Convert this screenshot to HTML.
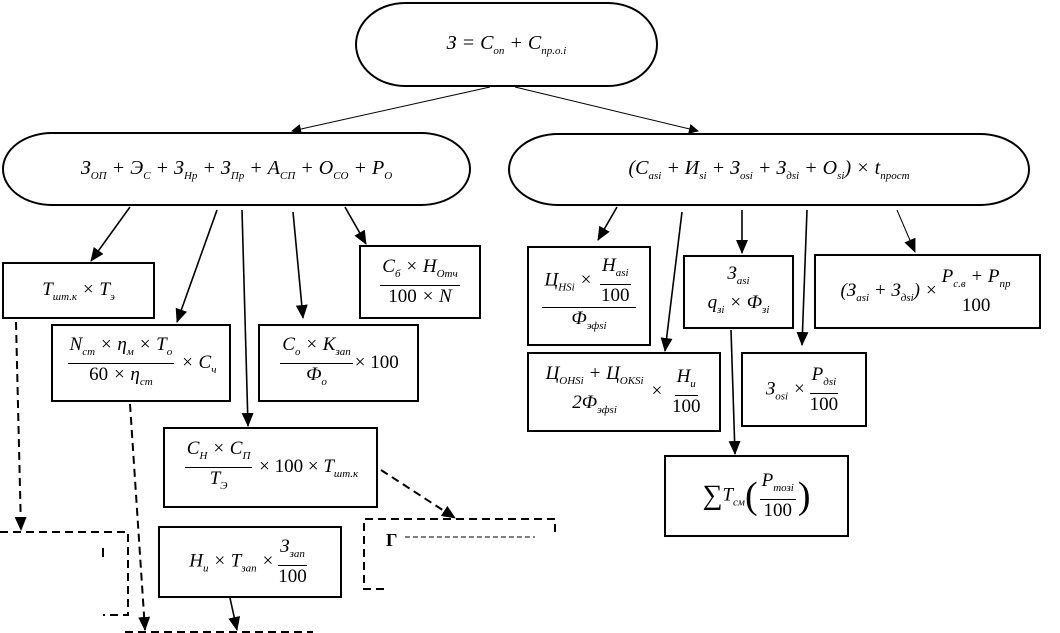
<!DOCTYPE html>
<html><head><meta charset="utf-8"><style>
html,body{margin:0;padding:0;background:#fff;}
body{width:1060px;height:633px;position:relative;overflow:hidden;font-family:"Liberation Serif",serif;font-style:italic;color:#000;}
.b{position:absolute;border:2px solid #000;box-sizing:border-box;display:flex;align-items:center;justify-content:center;background:#fff;font-size:19px;white-space:nowrap;}
.st{position:absolute;border:2px solid #000;box-sizing:border-box;border-radius:50px/50%;display:flex;align-items:center;justify-content:center;font-size:20px;white-space:nowrap;background:#fff;}
sub{font-size:11px;vertical-align:-5px;}
.f{display:inline-flex;flex-direction:column;align-items:center;vertical-align:middle;margin:0 2px;}
.f>span{display:block;line-height:22px;padding:0 2px;}
.f>span:first-child{border-bottom:1px solid #000;}
.n{font-style:normal;}
svg{position:absolute;left:0;top:0;}
</style></head><body>
<svg width="1060" height="633">
<defs><marker id="a" markerWidth="10" markerHeight="10" refX="9" refY="5" orient="auto" markerUnits="userSpaceOnUse"><path d="M0,0 L10,5 L0,10z" fill="#000"/></marker>
<marker id="a2" markerWidth="14" markerHeight="12" refX="13" refY="6" orient="auto" markerUnits="userSpaceOnUse"><path d="M0,0 L14,6 L0,12z" fill="#000"/></marker></defs>
<g stroke="#000" fill="none">
<line x1="490" y1="87" x2="292" y2="131" stroke-width="1" marker-end="url(#a)"/>
<line x1="515" y1="87" x2="698" y2="131" stroke-width="1" marker-end="url(#a)"/>
<g stroke-width="1.6">
<line x1="130" y1="207" x2="91" y2="261" marker-end="url(#a2)"/>
<line x1="217" y1="210" x2="177" y2="322" marker-end="url(#a2)"/>
<line x1="242" y1="210" x2="248" y2="426" marker-end="url(#a2)"/>
<line x1="293" y1="212" x2="303" y2="318" marker-end="url(#a2)"/>
<line x1="345" y1="207" x2="366" y2="244" marker-end="url(#a2)"/>
<line x1="230" y1="598" x2="237" y2="630" marker-end="url(#a2)"/>
<line x1="617" y1="207" x2="598" y2="240" marker-end="url(#a2)"/>
<line x1="682" y1="212" x2="665" y2="351" marker-end="url(#a2)"/>
<line x1="742" y1="210" x2="742" y2="253" marker-end="url(#a2)"/>
<line x1="807" y1="210" x2="802" y2="345" marker-end="url(#a2)"/>
<line x1="731" y1="330" x2="735" y2="454" marker-end="url(#a2)"/>
</g>
<line x1="897" y1="210" x2="915" y2="252" stroke-width="1" marker-end="url(#a2)"/>
<g stroke-width="2" stroke-dasharray="8,5">
<line x1="16" y1="322" x2="21" y2="530" marker-end="url(#a2)"/>
<polyline points="0,532 128,532 128,615 103,615"/>
<line x1="130" y1="404" x2="145" y2="630" marker-end="url(#a2)"/>
<line x1="125" y1="632" x2="313" y2="632"/>
<line x1="381" y1="470" x2="455" y2="518" marker-end="url(#a2)"/>
<polyline points="555,519 364,519 364,589 388,589"/>
</g>
<line x1="405" y1="537" x2="535" y2="537" stroke-width="1" stroke-dasharray="5,3"/>
<line x1="555" y1="524" x2="555" y2="532" stroke-width="2"/>
<line x1="103" y1="548" x2="103" y2="557" stroke-width="2"/>
</g>
<text x="386" y="546" font-family="Liberation Serif" font-size="18" font-weight="bold" font-style="normal">Г</text>
</svg>

<div class="st" style="left:355px;top:2px;width:303px;height:85px;"><span>З = C<sub>оп</sub> + C<sub>пр.о.i</sub></span></div>
<div class="st" style="left:2px;top:132px;width:469px;height:74px;"><span>З<sub>ОП</sub> + Э<sub>С</sub> + З<sub>Нр</sub> + З<sub>Пр</sub> + А<sub>СП</sub> + О<sub>СО</sub> + Р<sub>О</sub></span></div>
<div class="st" style="left:508px;top:133px;width:522px;height:73px;"><span>(C<sub>аsi</sub> + И<sub>si</sub> + З<sub>оsi</sub> + З<sub>дsi</sub> + О<sub>si</sub>) × t<sub>прост</sub></span></div>

<div class="b" style="left:2px;top:262px;width:153px;height:57px;"><span>T<sub>шт.к</sub> × T<sub>э</sub></span></div>
<div class="b" style="left:51px;top:324px;width:180px;height:78px;"><span><span class="f"><span>N<sub>ст</sub> × η<sub>м</sub> × T<sub>о</sub></span><span><span class="n">60</span> × η<sub>ст</sub></span></span> × C<sub>ч</sub></span></div>
<div class="b" style="left:258px;top:324px;width:161px;height:78px;"><span><span class="f"><span>C<sub>о</sub> × K<sub>зап</sub></span><span>Ф<sub>о</sub></span></span><span class="n">× 100</span></span></div>
<div class="b" style="left:359px;top:245px;width:122px;height:74px;"><span><span class="f"><span>C<sub>б</sub> × H<sub>Отч</sub></span><span><span class="n">100</span> × N</span></span></span></div>
<div class="b" style="left:163px;top:427px;width:215px;height:81px;"><span><span class="f"><span>C<sub>Н</sub> × C<sub>П</sub></span><span>T<sub>Э</sub></span></span> <span class="n">× 100 ×</span> T<sub>шт.к</sub></span></div>
<div class="b" style="left:158px;top:526px;width:184px;height:72px;"><span>Н<sub>и</sub> × T<sub>зап</sub> ×<span class="f"><span>З<sub>зап</sub></span><span class="n">100</span></span></span></div>

<div class="b" style="left:527px;top:246px;width:124px;height:100px;"><span><span class="f"><span>Ц<sub>НSi</sub> × <span class="f"><span>H<sub>аsi</sub></span><span class="n">100</span></span></span><span>Ф<sub>эфsi</sub></span></span></span></div>
<div class="b" style="left:527px;top:352px;width:194px;height:80px;"><span><span class="f" style="margin:0"><span style="border:none">Ц<sub>ОНSi</sub> + Ц<sub>ОКSi</sub></span><span>2Ф<sub>эфsi</sub></span></span> × <span class="f"><span>H<sub>и</sub></span><span class="n">100</span></span></span></div>
<div class="b" style="left:683px;top:255px;width:111px;height:74px;"><span><span class="f"><span style="border:none">З<sub>аsi</sub></span><span>q<sub>зi</sub> × Ф<sub>зi</sub></span></span></span></div>
<div class="b" style="left:741px;top:352px;width:126px;height:75px;"><span>З<sub>оsi</sub> ×<span class="f"><span>P<sub>дsi</sub></span><span class="n">100</span></span></span></div>
<div class="b" style="left:814px;top:254px;width:227px;height:75px;"><span>(З<sub>аsi</sub> + З<sub>дsi</sub>) ×<span class="f"><span style="border:none">P<sub>с.в</sub> + P<sub>пр</sub></span><span class="n">100</span></span></span></div>
<div class="b" style="left:664px;top:455px;width:185px;height:82px;"><span><span style="font-style:normal;font-size:28px;vertical-align:middle;">∑</span>T<sub>см</sub><span style="font-size:38px;font-style:normal;vertical-align:middle;">(</span><span class="f"><span>P<sub>тозi</sub></span><span class="n">100</span></span><span style="font-size:38px;font-style:normal;vertical-align:middle;">)</span></span></div>
</body></html>
